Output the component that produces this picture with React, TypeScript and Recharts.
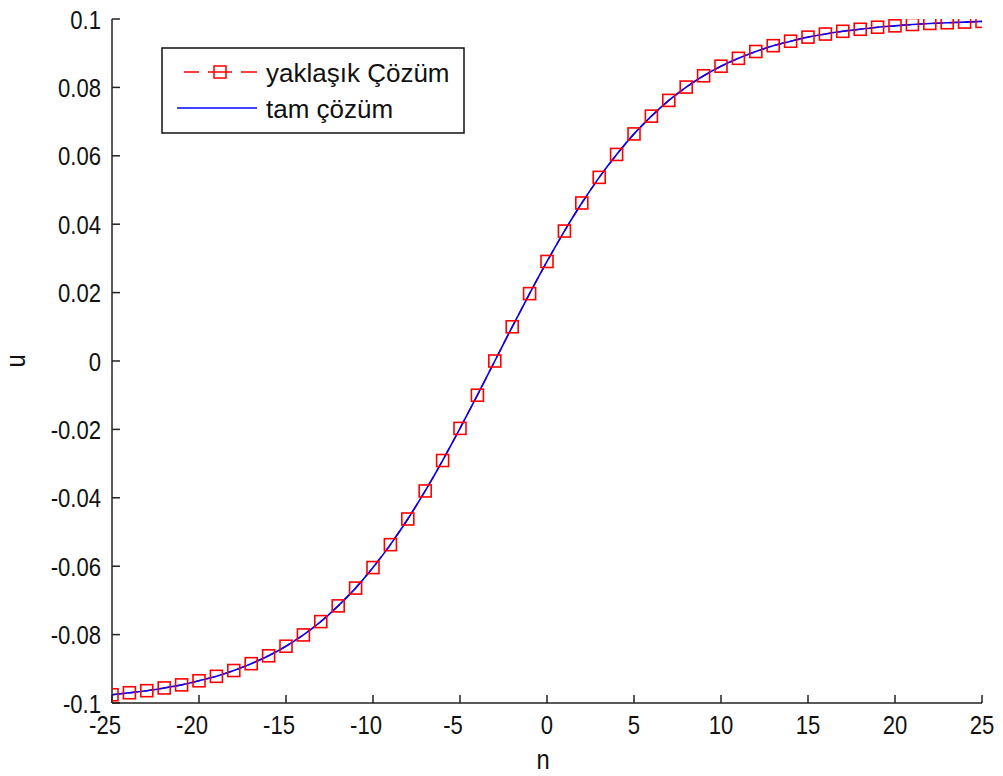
import React from 'react';
import { LineChart, Line, XAxis, YAxis, Legend } from 'recharts';

const nValues = [
  -25, -24, -23, -22, -21, -20, -19, -18, -17, -16, -15, -14, -13, -12, -11, -10, -9, -8, -7, -6, -5, -4, -3, -2, -1,
  0, 1, 2, 3, 4, 5, 6, 7, 8, 9, 10, 11, 12, 13, 14, 15, 16, 17, 18, 19, 20, 21, 22, 23, 24, 25,
];

const approxU = [
  -0.0976, -0.097, -0.0964, -0.0956, -0.0947, -0.0935, -0.0922, -0.0905, -0.0885, -0.0862, -0.0834, -0.0801, -0.0762,
  -0.0716, -0.0664, -0.0604, -0.0537, -0.0462, -0.038, -0.0291, -0.0197, -0.01, 0, 0.01, 0.0197,
  0.0291, 0.038, 0.0462, 0.0537, 0.0604, 0.0664, 0.0716, 0.0762, 0.0801, 0.0834, 0.0862, 0.0885, 0.0905, 0.0922,
  0.0935, 0.0947, 0.0956, 0.0964, 0.097, 0.0976, 0.098, 0.0984, 0.0987, 0.0989, 0.0991, 0.0993,
];

const exactU = [
  -0.0976, -0.097, -0.0964, -0.0956, -0.0947, -0.0935, -0.0922, -0.0905, -0.0885, -0.0862, -0.0834, -0.0801, -0.0762,
  -0.0716, -0.0664, -0.0604, -0.0537, -0.0462, -0.038, -0.0291, -0.0197, -0.01, 0, 0.01, 0.0197,
  0.0291, 0.038, 0.0462, 0.0537, 0.0604, 0.0664, 0.0716, 0.0762, 0.0801, 0.0834, 0.0862, 0.0885, 0.0905, 0.0922,
  0.0935, 0.0947, 0.0956, 0.0964, 0.097, 0.0976, 0.098, 0.0984, 0.0987, 0.0989, 0.0991, 0.0993,
];

const xTicks = [-25, -20, -15, -10, -5, 0, 5, 10, 15, 20, 25];
const yTicks = [-0.1, -0.08, -0.06, -0.04, -0.02, 0, 0.02, 0.04, 0.06, 0.08, 0.1];
const seriesNames = ['yaklaşık Çözüm', 'tam çözüm'];
const xAxisTitle = 'n';
const yAxisTitle = 'u';

const data = nValues.map((n, i) => ({ n, approx: approxU[i], exact: exactU[i] }));

const FONT = '"Liberation Sans", Arial, Helvetica, sans-serif';
const INK = '#111';
const RED = '#ff0000';
const BLUE = '#0000ff';

const XTick = (props: any) => {
  const { x, y, payload } = props;
  const v = payload.value;
  const dx = v < 0 ? -7 : 0;
  return (
    <text
      transform={`translate(${x + dx},${y + 39}) scale(0.85,1)`}
      textAnchor="middle"
      fontSize={26}
      fontFamily={FONT}
      fill={INK}
    >
      {String(v)}
    </text>
  );
};

const YTick = (props: any) => {
  const { x, y, payload } = props;
  return (
    <text
      transform={`translate(${x - 19},${y + 9.5}) scale(0.85,1)`}
      textAnchor="end"
      fontSize={26}
      fontFamily={FONT}
      fill={INK}
    >
      {String(payload.value)}
    </text>
  );
};

const EmptyTick = () => <g />;

const XTitle = (props: any) => {
  const vb = props.viewBox || { x: 112, y: 703, width: 870 };
  return (
    <text
      transform={`translate(${vb.x + vb.width / 2 - 4},${vb.y + 66}) scale(0.85,1)`}
      textAnchor="middle"
      fontSize={28}
      fontFamily={FONT}
      fill={INK}
    >
      {xAxisTitle}
    </text>
  );
};

const YTitle = (props: any) => {
  const vb = props.viewBox || { x: 0, y: 19, height: 684 };
  return (
    <text
      transform={`translate(${vb.x + 25},${vb.y + vb.height / 2}) rotate(-90) scale(0.85,1)`}
      textAnchor="middle"
      fontSize={28}
      fontFamily={FONT}
      fill={INK}
    >
      {yAxisTitle}
    </text>
  );
};

const SquareDot = (props: any) => {
  const { cx, cy, index } = props;
  if (cx == null || cy == null) return <g key={`d${index}`} />;
  return (
    <rect
      key={`d${index}`}
      x={cx - 6}
      y={cy - 6}
      width={12}
      height={12}
      fill="none"
      stroke={RED}
      strokeWidth={1.6}
    />
  );
};

const LegendBox = () => (
  <svg width={304} height={88} style={{ display: 'block' }}>
    <rect x={1} y={1} width={302} height={85} fill="#fff" stroke={INK} strokeWidth={1.5} />
    <g stroke={RED} strokeWidth={1.5}>
      <line x1={23} y1={25} x2={38} y2={25} />
      <line x1={47} y1={25} x2={71} y2={25} />
      <line x1={80} y1={25} x2={96} y2={25} />
      <rect x={53} y={19} width={12} height={12} fill="none" />
    </g>
    <text x={105} y={35} fontSize={26} fontFamily={FONT} fill={INK}>
      {seriesNames[0]}
    </text>
    <line x1={16} y1={61} x2={96} y2={61} stroke={BLUE} strokeWidth={1.5} />
    <text x={105} y={71} fontSize={26} fontFamily={FONT} fill={INK}>
      {seriesNames[1]}
    </text>
  </svg>
);

export default function App() {
  const axisStyle = { stroke: '#222', strokeWidth: 1.5 };
  return (
    <div style={{ position: 'absolute', left: 0, top: 0, width: 1003, height: 776, background: '#fff' }}>
      <LineChart
        width={1003}
        height={776}
        data={data}
        margin={{ top: 19, right: 21, bottom: 0, left: 0 }}
      >
        <XAxis
          dataKey="n"
          type="number"
          domain={[-25, 25]}
          ticks={xTicks}
          allowDataOverflow
          height={73}
          tickSize={-8}
          tickMargin={0}
          tick={XTick}
          axisLine={axisStyle}
          tickLine={axisStyle}
          label={{ value: xAxisTitle, content: XTitle }}
        />
        <XAxis
          xAxisId="top"
          orientation="top"
          dataKey="n"
          type="number"
          domain={[-25, 25]}
          ticks={xTicks}
          allowDataOverflow
          height={0}
          tickSize={-8}
          tick={EmptyTick}
          axisLine={axisStyle}
          tickLine={axisStyle}
        />
        <YAxis
          type="number"
          domain={[-0.1, 0.1]}
          ticks={yTicks}
          allowDataOverflow
          width={112}
          tickSize={-8}
          tickMargin={0}
          tick={YTick}
          axisLine={axisStyle}
          tickLine={axisStyle}
          label={{ value: yAxisTitle, content: YTitle }}
        />
        <YAxis
          yAxisId="right"
          orientation="right"
          type="number"
          domain={[-0.1, 0.1]}
          ticks={yTicks}
          allowDataOverflow
          width={0}
          tickSize={-8}
          tick={EmptyTick}
          axisLine={axisStyle}
          tickLine={axisStyle}
        />
        <Legend
          layout="vertical"
          align="center"
          verticalAlign="middle"
          wrapperStyle={{ left: 161, top: 47, width: 304, height: 88 }}
          content={LegendBox}
        />
        <Line
          type="linear"
          dataKey="approx"
          name={seriesNames[0]}
          stroke={RED}
          strokeWidth={1.5}
          strokeDasharray="10 6"
          dot={SquareDot}
          activeDot={false}
          isAnimationActive={false}
        />
        <Line
          type="monotone"
          dataKey="exact"
          name={seriesNames[1]}
          stroke={BLUE}
          strokeWidth={1.6}
          dot={false}
          activeDot={false}
          isAnimationActive={false}
        />
      </LineChart>
    </div>
  );
}
